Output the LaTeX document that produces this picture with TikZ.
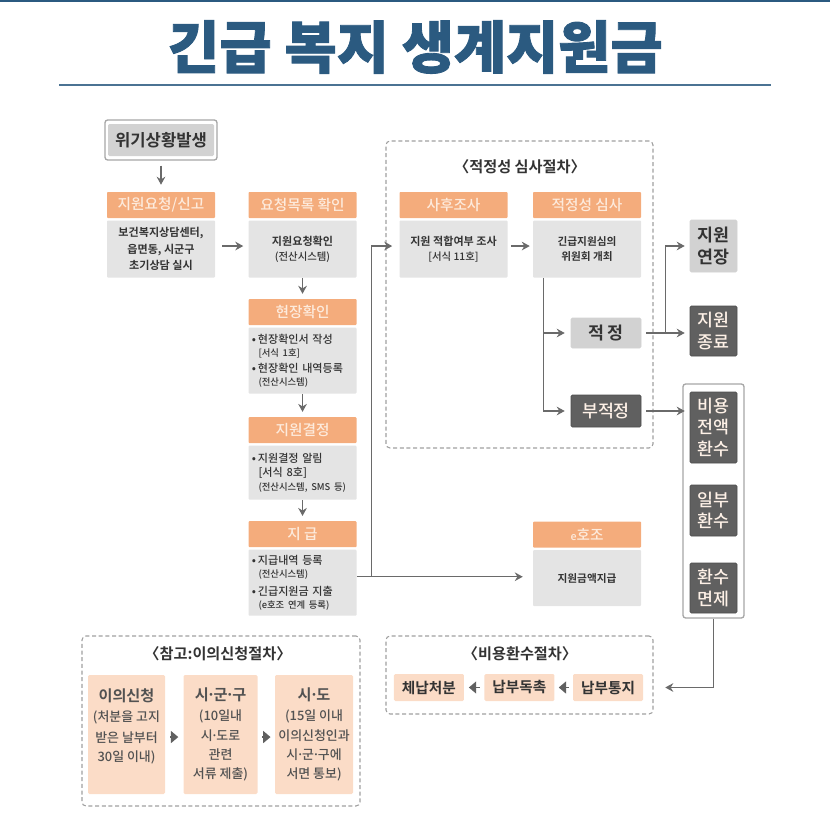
\documentclass[tikz,border=0pt]{standalone}
\usepackage{fontspec}
\setmainfont[UprightFont=* Medium,BoldFont=* Bold]{Noto Sans CJK KR}
\newfontfamily\titlefont[UprightFont=* Black,FakeBold=1.5]{Noto Sans CJK KR}
\usetikzlibrary{positioning, arrows, arrows.meta}
\definecolor{titleblue}{HTML}{2B5A80}
\definecolor{headorange}{HTML}{F4AC7C}
\definecolor{headtext}{HTML}{FDEBDD}
\definecolor{bodygray}{HTML}{E4E4E4}
\definecolor{midgray}{HTML}{D2D2D2}
\definecolor{darkgray}{HTML}{606060}
\definecolor{linegray}{HTML}{6A6A6A}
\definecolor{peach}{HTML}{FBDCC7}
\definecolor{inktext}{HTML}{333333}
\newcommand{\fsz}[1]{\fontsize{#1}{#1}\selectfont}
\newcommand{\subline}[1]{\hspace*{5pt}{\fsz{7}#1}}
\newcommand{\bitem}[1]{{\bfseries\textbullet}\,#1}
\newcommand{\mdot}{\kern-.14em·\kern-.14em}
\tikzset{
	>={Stealth[length=6pt,width=6.5pt]}, % solid arrow heads
	every edge/.style={->, draw=linegray, line width=1pt},
	gapped/.style={shorten <=#1},
	short/.style={shorten >=#1},
	elbow/.style={to path={|- (\tikztotarget)}},
	headbox/.style={fill=headorange, text=headtext, minimum width=81pt, minimum height=19.5pt, inner sep=0pt, rounded corners=0.7pt, font=\fsz{11}},
	bodybox/.style={fill=bodygray, text=inktext, minimum width=81pt, minimum height=#1, inner sep=0pt, rounded corners=0.7pt, align=center, font=\fsz{8.3}},
	listbody/.style={bodybox=#1, align=left, text width=76pt},
	lightbox/.style={fill=midgray, text=inktext, draw=midgray, inner sep=0pt, rounded corners=1pt, align=center, font=\fsz{13}\bfseries},
	darkbox/.style={fill=darkgray, text=headtext!70!white, draw=darkgray!80!black, inner sep=0pt, rounded corners=1pt, align=center, font=\fsz{13}},
	resultbox/.style={minimum width=35.25pt, minimum height=#1},
	dashframe/.style={draw=gray!75, densely dashed, line width=0.8pt, rounded corners=3pt},
	whiteframe/.style={draw=gray!70, line width=1pt, rounded corners=2pt},
	frametitle/.style={text=inktext, inner sep=0pt, font=\fsz{11.4}\bfseries},
	peachbox/.style={fill=peach, text=inktext!85!white, inner sep=0pt, rounded corners=1pt, align=center, font=\fsz{9.7}},
	paybox/.style={fill=peach, text=inktext, minimum width=52.5pt, minimum height=20.25pt, inner sep=0pt, rounded corners=1pt, font=\fsz{11}\bfseries},
	tipedge/.style={-{Triangle[length=5.5pt,width=9pt]}, draw=darkgray, shorten >=#1, shorten <=#1},
}

\begin{document}
\begin{tikzpicture}[x=0.75pt,y=-0.75pt]
	\useasboundingbox (0,0) rectangle (830,832);
	\fill[titleblue] (0,0) rectangle (830,2);
	\node[text=titleblue, inner sep=0pt, font=\titlefont\fsz{42.5}] (maintitle) at (415,47) {긴급 복지 생계지원금};
	\fill[titleblue!85] (59,83.5) rectangle (771,85.5);
	% frames
	\node[dashframe, minimum width=200.25pt, minimum height=230.25pt] (reviewframe) at (519.5,294.5) {};
	\node[dashframe, minimum width=200.25pt, minimum height=58.5pt] (refundproc) at (519.5,675) {};
	\node[dashframe, minimum width=208.5pt, minimum height=127.5pt] (appealframe) at (221,721) {};
	\node[frametitle] (reviewtitle) at (520,167) {〈적정성 심사절차〉};
	\node[frametitle] (refundtitle) at (520,654) {〈비용환수절차〉};
	\node[frametitle] (appealtitle) at (218,654) {〈참고:이의신청절차〉};
	% main column
	\node[whiteframe, minimum width=84pt, minimum height=30pt] (crisisframe) at (161,140) {};
	\node[fill=midgray, text=inktext, minimum width=79.5pt, minimum height=24pt, inner sep=0pt, rounded corners=1pt, font=\fsz{12.5}\bfseries] (crisis) at (crisisframe) {위기상황발생};
	\node[headbox] (reqhead) at (161,205) {지원요청/신고};
	\node[bodybox=42.75pt, below=1.5pt of reqhead, font=\fsz{8.3}\bfseries] (reqbody) {보건복지상담센터,\\[2.6pt]읍면동, 시군구\\[2.6pt]초기상담 실시};
	\node[headbox, right=24.75pt of reqhead] (listhead) {요청목록 확인};
	\node[bodybox=42.75pt, below=1.5pt of listhead] (listchk) {\textbf{지원요청확인}\\[3pt]{\fsz{7.8}(전산시스템)}};
	\node[headbox, below=15.75pt of listchk] (sitehead) {현장확인};
	\node[listbody=49.5pt, below=1.5pt of sitehead] (sitebody) {\bitem{현장확인서 작성}\\[1.5pt]\subline{[서식 1호]}\\[4pt]\bitem{현장확인 내역등록}\\[1.5pt]\subline{(전산시스템)}};
	\node[headbox, below=17.25pt of sitebody] (dechead) {지원결정};
	\node[listbody=40.5pt, below=1.5pt of dechead] (decbody) {\bitem{지원결정 알림}\\[2pt]\hspace*{5pt}[서식 8호]\\[2pt]\subline{(전산시스템, SMS 등)}};
	\node[headbox, below=15.75pt of decbody] (payhead) {지 급};
	\node[listbody=49.5pt, below=1.5pt of payhead] (paybody) {\bitem{지급내역 등록}\\[1.5pt]\subline{(전산시스템)}\\[4pt]\bitem{긴급지원금 지출}\\[1.5pt]\subline{(e호조 연계 등록)}};
	% review column
	\node[headbox] (posthead) at (453.5,205) {사후조사};
	\node[bodybox=42.75pt, below=1.5pt of posthead] (postbody) {\textbf{지원 적합여부 조사}\\[3pt]{\fsz{7.8}[서식 11호]}};
	\node[headbox, right=18.75pt of posthead] (revhead) {적정성 심사};
	\node[bodybox=42.75pt, below=1.5pt of revhead, font=\fsz{8}\bfseries] (revbody) {긴급지원심의\\[3pt]위원회 개최};
	\node[lightbox, minimum width=52.5pt, minimum height=22.5pt] (fitbox) at (606,333) {적 정};
	\node[darkbox, minimum width=52.5pt, minimum height=24pt] (unfitbox) at (606,411) {부적정};
	% e-hojo
	\node[headbox, below=227.25pt of revhead.south] (ehead) {{\fsz{8}e}호조};
	\node[bodybox=42pt, below=1.5pt of ehead, font=\fsz{8}\bfseries] (ebody) {지원금액지급};
	% results
	\node[lightbox, resultbox=39pt] (extend) at (713.5,246) {지원\\[3pt]연장};
	\node[darkbox, resultbox=37.5pt] (finish) at (713.5,331) {지원\\[3pt]종료};
	\node[whiteframe, minimum width=45.75pt, minimum height=175.5pt] (refundframe) at (713.5,501) {};
	\node[darkbox, resultbox=53.25pt] (fullback) at (713.5,427.5) {비용\\[3pt]전액\\[3pt]환수};
	\node[darkbox, resultbox=38.25pt] (partback) at (713.5,510.5) {일부\\[3pt]환수};
	\node[darkbox, resultbox=37.5pt] (exempt) at (713.5,588) {환수\\[3pt]면제};
	% collection
	\node[paybox] (notice) at (608,687.5) {납부통지};
	\node[paybox, left=13.5pt of notice] (urge) {납부독촉};
	\node[paybox, left=15pt of urge] (seize) {체납처분};
	% appeal
	\node[peachbox, minimum width=57.75pt, minimum height=89.25pt] (appeal) at (126.5,734.5) {{\fsz{11.4}\bfseries 이의신청}\\[5pt](처분을 고지\\[4.5pt]받은 날부터\\[4.5pt]30일 이내)\\[4.5pt]\mbox{}};
	\node[peachbox, minimum width=55.5pt, minimum height=89.25pt, right=13.5pt of appeal] (sigungu) {{\fsz{11.4}\bfseries 시\mdot 군\mdot 구}\\[5pt](10일내\\[4.5pt]시\mdot 도로\\[4.5pt]관련\\[4.5pt]서류 제출)};
	\node[peachbox, minimum width=58.5pt, minimum height=89.25pt, right=12.75pt of sigungu] (sido) {{\fsz{11.4}\bfseries 시\mdot 도}\\[5pt](15일 이내\\[4.5pt]이의신청인과\\[4.5pt]시\mdot 군\mdot 구에\\[4.5pt]서면 통보)};
	% tap points
	\coordinate (reqtap) at ([yshift=2.25pt]reqbody.east);
	\coordinate (listtap) at ([yshift=2.25pt]listchk.west);
	\coordinate (posttap) at ([yshift=2.25pt]postbody.west);
	\coordinate (postout) at ([yshift=2.25pt]postbody.east);
	\coordinate (revin) at ([yshift=2.25pt]revbody.west);
	\coordinate (branch) at ([xshift=8.25pt]revbody.south west);
	\coordinate (paytap) at ([yshift=4.5pt]paybody.east);
	\coordinate (uptap) at ([xshift=11.25pt]paytap);
	\coordinate (fittap) at ([xshift=18pt]fitbox.east);
	\coordinate (refundtap) at (refundframe.south -| exempt.south);
	\path	(crisisframe) edge[gapped=3.75pt, short=5.25pt] (reqhead)
			(reqtap) edge[gapped=5.25pt, short=3.75pt] (listtap)
			(listchk) edge[short=3.75pt] (sitehead)
			(sitebody) edge[short=3.75pt] (dechead)
			(decbody) edge[short=3.75pt] (payhead)
			(paytap) edge[short=7.5pt] (paytap -| ebody.west)
			(uptap) edge[elbow, short=5.25pt] (posttap)
			(postout) edge[gapped=2.25pt, short=2.25pt] (revin)
			(branch) edge[elbow, short=4.5pt] (fitbox.west)
			(branch) edge[elbow, short=4.5pt] (unfitbox.west)
			(fitbox.east) edge[gapped=3.75pt, short=3.75pt] (fitbox.east -| finish.west)
			(fittap) edge[elbow, short=3.75pt] (extend.west)
			(unfitbox.east) edge[gapped=3.75pt, short=3.75pt] (unfitbox.east -| fullback.west)
			(refundtap) edge[elbow, short=16.5pt] (notice.east);
	% triangles between boxes
	\path	([yshift=-1.9pt]appeal.east) edge[tipedge=3.75pt] ([yshift=-1.9pt]sigungu.west)
			([yshift=-1.9pt]sigungu.east) edge[tipedge=3.2pt] ([yshift=-1.9pt]sido.west)
			(notice) edge[tipedge=3pt] (urge)
			(urge) edge[tipedge=3.5pt] (seize);
\end{tikzpicture}
\end{document}
